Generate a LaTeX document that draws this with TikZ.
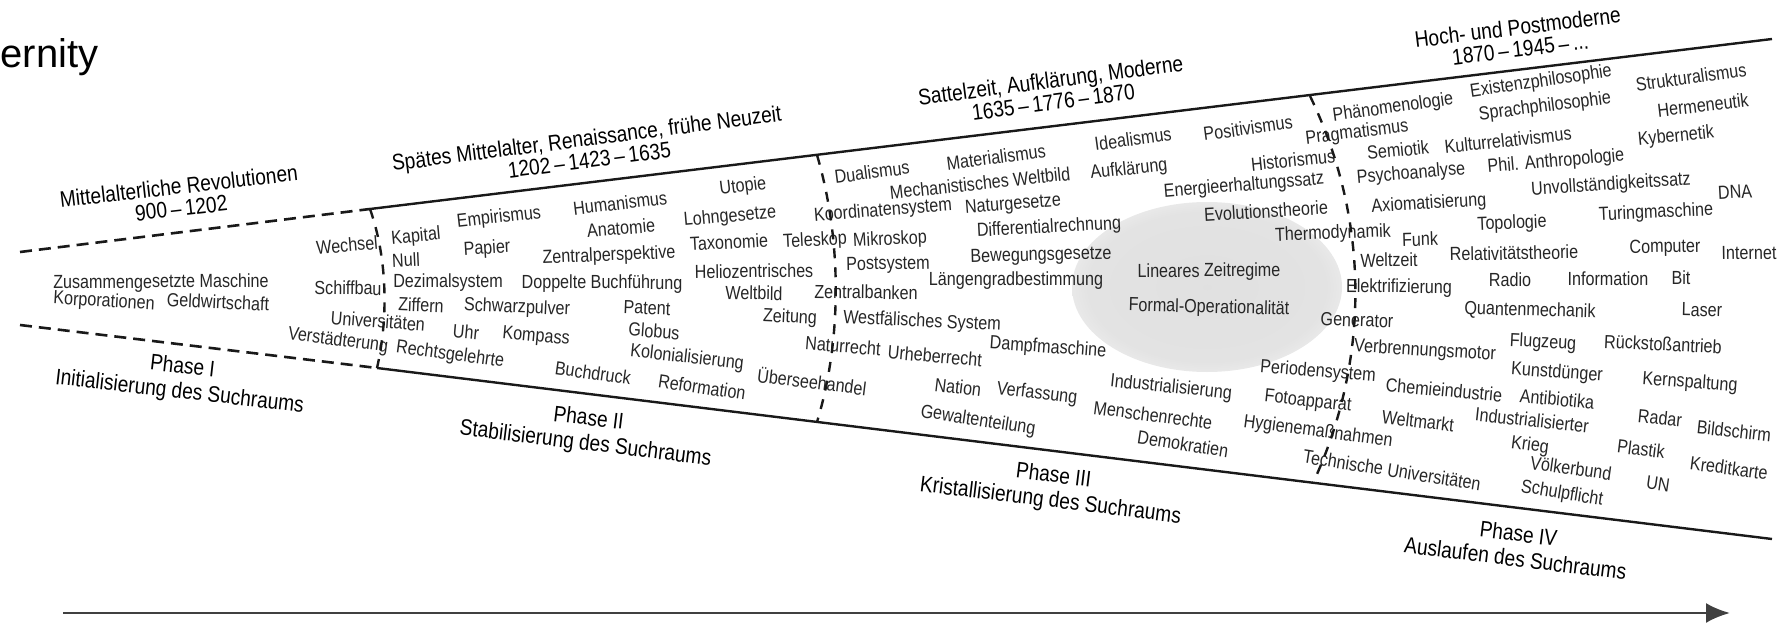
\documentclass[tikz,border=0pt]{standalone}
\usepackage{fontspec}
\setmainfont{Liberation Sans}
\newfontfamily\lsans{Liberation Sans}
\newfontfamily\dfont{Liberation Sans}[FakeStretch=0.85]
\usetikzlibrary{arrows.meta}
\pgfdeclareradialshading{glow}{\pgfpoint{0bp}{0bp}}{color(0bp)=(black!12); color(22bp)=(black!11); color(37bp)=(white); color(50bp)=(white)}
\newcommand\wl[4]{%
  \pgfmathsetmacro\wlyt{209-0.121*(#2-370)}%
  \pgfmathsetmacro\wlyb{368+0.1226*(#2-377)}%
  \pgfmathsetmacro\wlang{9-19*(#3-\wlyt)/(\wlyb-\wlyt)}%
  \node[itm,rotate=\wlang] (#1) at (#2,-#3) {#4};}
\begin{document}
\begin{tikzpicture}[x=1pt,y=1pt,
  itm/.style={font=\dfont\fontsize{19}{20}\selectfont, text=black!85, inner sep=0pt},
  ttl/.style={font=\dfont\fontsize{22.5}{22}\selectfont, align=center, inner sep=0pt, rotate=7},
  phs/.style={font=\dfont\fontsize{22.5}{25}\selectfont, align=center, inner sep=0pt, rotate=-7},
  bound/.style={line width=2.4pt, black!90},
  bdash/.style={line width=2.6pt, black!90, dash pattern=on 12pt off 7pt},
  divider/.style={line width=2.4pt, black!90, dash pattern=on 10pt off 9pt},
  timeaxis/.style={line width=2.6pt, black!75, -{Latex[length=24pt,width=20pt]}}]
\useasboundingbox (0,0) rectangle (1780,-623);

% grey glow
\shade[shading=glow] (1207,-287) ellipse [x radius=135pt, y radius=85pt];

% cut title word
\node[anchor=base east, font=\lsans\fontsize{40}{42}\selectfont] (word) at (102,-68) {ernity};

% frame coordinates
\coordinate (TL) at (20,-252);
\coordinate (T1) at (370,-209);
\coordinate (T2) at (817,-155);
\coordinate (T3) at (1310,-96);
\coordinate (TR) at (1772,-39);
\coordinate (BL) at (20,-325);
\coordinate (B1) at (377,-368);
\coordinate (B2) at (817,-422);
\coordinate (B3) at (1313,-483);
\coordinate (BR) at (1772,-539);
\coordinate (A0) at (63,-613);
\coordinate (A1) at (1730,-613);

% titles
\node[ttl, rotate=-0.5] (t1) at (180,-197) {Mittelalterliche Revolutionen\\900\,–\,1202};
\node[ttl, rotate=0.3] (t2) at (588,-149) {Spätes Mittelalter, Renaissance, frühe Neuzeit\\1202\,–\,1423\,–\,1635};
\node[ttl, rotate=0.5] (t3) at (1052,-91) {Sattelzeit, Aufklärung, Moderne\\1635\,–\,1776\,–\,1870};
\node[ttl] (t4) at (1519,-38) {Hoch- und Postmoderne\\1870\,–\,1945\,–\,...};

% phases
\node[phs, rotate=0.5] (p1) at (181,-380) {Phase I\\Initialisierung des Suchraums};
\node[phs] (p2) at (587,-432) {Phase II\\Stabilisierung des Suchraums};
\node[phs] (p3) at (1052,-489) {Phase III\\Kristallisierung des Suchraums};
\node[phs] (p4) at (1517,-546) {Phase IV\\Auslaufen des Suchraums};

% Phase I
\wl{zm}{161}{283}{Zusammengesetzte Maschine}
\wl{korp}{104}{302}{Korporationen}
\wl{geld}{218}{302}{Geldwirtschaft}

% Phase II
\wl{wech}{347}{245}{Wechsel}
\wl{schiff}{348}{288}{Schiffbau}
\wl{univ}{378}{321}{Universitäten}
\wl{verst}{338}{341}{Verstädterung}
\wl{kap}{416}{237}{Kapital}
\wl{null}{406}{260}{Null}
\wl{dezi}{448}{283}{Dezimalsystem}
\wl{ziff}{421}{305}{Ziffern}
\wl{recht}{450}{355}{Rechtsgelehrte}
\wl{uhr}{466}{332}{Uhr}
\wl{komp}{536}{337}{Kompass}
\wl{empi}{499}{218}{Empirismus}
\wl{papi}{487}{249}{Papier}
\wl{schw}{517}{308}{Schwarzpulver}
\wl{huma}{620}{203}{Humanismus}
\wl{anat}{621}{228}{Anatomie}
\wl{zent}{609}{256}{Zentralperspektive}
\wl{dopp}{602}{284}{Doppelte Buchführung}
\wl{pate}{647}{308}{Patent}
\wl{glob}{654}{331}{Globus}
\wl{kolo}{687}{358}{Kolonialisierung}
\wl{buch}{593}{373}{Buchdruck}
\wl{refo}{702}{387}{Reformation}
\wl{utop}{743}{187}{Utopie}
\wl{lohn}{730}{217}{Lohngesetze}
\wl{taxo}{729}{242}{Taxonomie}
\wl{heli}{754}{271}{Heliozentrisches}
\wl{wbild}{754}{293}{Weltbild}
\wl{zeit}{790}{318}{Zeitung}
\wl{tele}{815}{241}{Teleskop}
\wl{uebe}{812}{381}{Überseehandel}

% Phase III
\wl{dual}{872}{172}{Dualismus}
\wl{mate}{996}{157}{Materialismus}
\wl{mech}{980}{183}{Mechanistisches Weltbild}
\wl{koor}{883}{211}{Koordinatensystem}
\wl{natg}{1013}{205}{Naturgesetze}
\wl{mikr}{890}{240}{Mikroskop}
\wl{diff}{1049}{228}{Differentialrechnung}
\wl{post}{888}{265}{Postsystem}
\wl{bewe}{1041}{256}{Bewegungsgesetze}
\wl{zban}{866}{292}{Zentralbanken}
\wl{laen}{1016}{281}{Längengradbestimmung}
\wl{west}{922}{322}{Westfälisches System}
\wl{natr}{843}{346}{Naturrecht}
\wl{urhe}{935}{356}{Urheberrecht}
\wl{damp}{1048}{348}{Dampfmaschine}
\wl{nati}{958}{387}{Nation}
\wl{verf}{1037}{394}{Verfassung}
\wl{gewa}{978}{421}{Gewaltenteilung}
\wl{indu}{1171}{388}{Industrialisierung}
\wl{mens}{1153}{415}{Menschenrechte}
\wl{demo}{1183}{444}{Demokratien}
\wl{idea}{1133}{139}{Idealismus}
\wl{aufk}{1129}{170}{Aufklärung}
\wl{posi}{1248}{128}{Positivismus}
\wl{hist}{1293}{160}{Historismus}
\wl{ener}{1244}{186}{Energieerhaltungssatz}
\wl{evol}{1266}{211}{Evolutionstheorie}
\wl{ther}{1333}{234}{Thermodynamik}
\wl{line}{1209}{272}{Lineares Zeitregime}
\wl{form}{1209}{308}{Formal-Operationalität}
\wl{peri}{1318}{372}{Periodensystem}
\wl{foto}{1308}{402}{Fotoapparat}
\wl{hygi}{1318}{432}{Hygienemaßnahmen}

% Phase IV
\wl{phae}{1393}{108}{Phänomenologie}
\wl{prag}{1357}{133}{Pragmatismus}
\wl{semi}{1398}{150}{Semiotik}
\wl{psyc}{1411}{174}{Psychoanalyse}
\wl{axio}{1429}{204}{Axiomatisierung}
\wl{funk}{1420}{239}{Funk}
\wl{welz}{1389}{260}{Weltzeit}
\wl{elek}{1399}{288}{Elektrifizierung}
\wl{gene}{1357}{320}{Generator}
\wl{verb}{1425}{351}{Verbrennungsmotor}
\wl{chem}{1444}{390}{Chemieindustrie}
\wl{welm}{1418}{421}{Weltmarkt}
\wl{tech}{1392}{470}{Technische Universitäten}
\wl{exis}{1541}{82}{Existenzphilosophie}
\wl{spra}{1545}{107}{Sprachphilosophie}
\wl{kult}{1508}{140}{Kulturrelativismus}
\wl{phil}{1556}{162}{Phil. Anthropologie}
\wl{stru}{1691}{77}{Strukturalismus}
\wl{herm}{1703}{105}{Hermeneutik}
\wl{kybe}{1676}{137}{Kybernetik}
\wl{unvo}{1611}{185}{Unvollständigkeitssatz}
\wl{dna}{1735}{192}{DNA}
\wl{topo}{1512}{224}{Topologie}
\wl{turi}{1656}{213}{Turingmaschine}
\wl{rela}{1514}{253}{Relativitätstheorie}
\wl{comp}{1665}{248}{Computer}
\wl{inte}{1749}{253}{Internet}
\wl{radi}{1510}{280}{Radio}
\wl{info}{1608}{279}{Information}
\wl{bit}{1681}{278}{Bit}
\wl{quan}{1530}{311}{Quantenmechanik}
\wl{lase}{1702}{310}{Laser}
\wl{flug}{1543}{343}{Flugzeug}
\wl{rueck}{1663}{344}{Rückstoßantrieb}
\wl{kuns}{1557}{373}{Kunstdünger}
\wl{kern}{1690}{383}{Kernspaltung}
\wl{anti}{1557}{399}{Antibiotika}
\wl{indt}{1532}{420}{Industrialisierter}
\wl{krie}{1530}{446}{Krieg}
\wl{rada}{1660}{418}{Radar}
\wl{bild}{1734}{431}{Bildschirm}
\wl{plas}{1641}{449}{Plastik}
\wl{voel}{1571}{468}{Völkerbund}
\wl{kred}{1729}{468}{Kreditkarte}
\wl{un}{1658}{484}{UN}
\wl{schu}{1562}{494}{Schulpflicht}

% frame lines
\draw[bdash] (TL) -- (T1);
\draw[bound] (T1) -- (TR);
\draw[bdash] (BL) -- (B1);
\draw[bound] (B1) -- (BR);
\draw[divider] (T1) .. controls (388,-260) and (388,-320) .. (B1);
\draw[divider] (T2) .. controls (842,-240) and (842,-340) .. (B2);
\draw[divider] (T3) .. controls (1370,-220) and (1370,-360) .. (B3);

% time axis
\draw[timeaxis] (A0) -- (A1);
\end{tikzpicture}
\end{document}
